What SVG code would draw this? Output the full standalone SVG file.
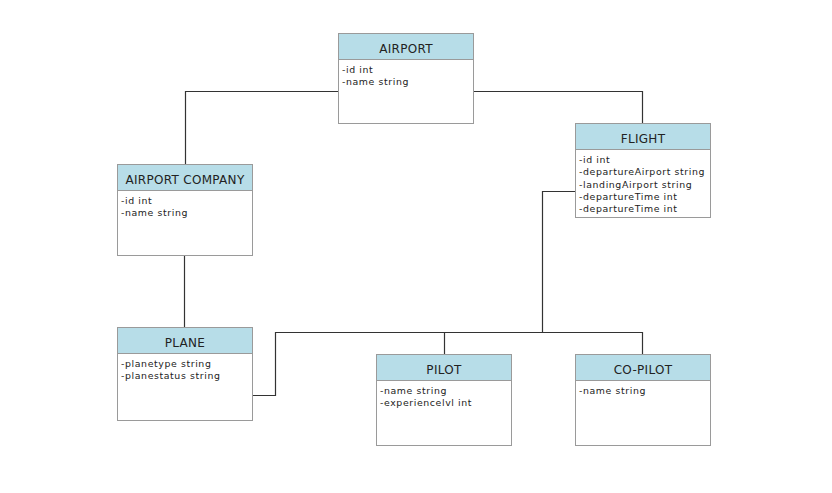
<svg xmlns="http://www.w3.org/2000/svg" width="832" height="493" viewBox="0 0 832 493">
<style>
.box{fill:#ffffff;stroke:#9a9a9a;stroke-width:1}
.hdr{fill:#b7dde8;stroke:#9a9a9a;stroke-width:1}
.title{font-family:"DejaVu Sans",Verdana,sans-serif;font-size:12px;letter-spacing:0.3px;fill:#222;text-anchor:middle}
.attr{font-family:"DejaVu Sans",Verdana,sans-serif;font-size:9.4px;letter-spacing:0.6px;fill:#222}
.conn{fill:none;stroke:#333;stroke-width:1.2}
</style>
<rect width="832" height="493" fill="#ffffff"/>
<g id="connectors">
<polyline class="conn" points="338.5,91.5 185.5,91.5 185.5,164.5"/>
<polyline class="conn" points="473.5,91.5 642.5,91.5 642.5,123.5"/>
<line class="conn" x1="184.5" y1="255.5" x2="184.5" y2="327.5"/>
<polyline class="conn" points="575.5,191.5 542.5,191.5 542.5,332.5"/>
<polyline class="conn" points="252.5,395.5 275.5,395.5 275.5,332.5 642.5,332.5 642.5,354.5"/>
<line class="conn" x1="444.5" y1="332.5" x2="444.5" y2="354.5"/>
</g>
<g id="airport">
<rect class="box" x="338.5" y="33.5" width="135" height="90"/>
<rect class="hdr" x="338.5" y="33.5" width="135" height="26"/>
<text class="title" x="406" y="52.5">AIRPORT</text>
<text class="attr" x="342" y="73">-id int</text>
<text class="attr" x="342" y="85">-name string</text>
</g>
<g id="flight">
<rect class="box" x="575.5" y="123.5" width="135" height="94"/>
<rect class="hdr" x="575.5" y="123.5" width="135" height="26"/>
<text class="title" x="643" y="142.5">FLIGHT</text>
<text class="attr" x="579" y="163">-id int</text>
<text class="attr" x="579" y="175.3">-departureAirport string</text>
<text class="attr" x="579" y="187.6">-landingAirport string</text>
<text class="attr" x="579" y="199.9">-departureTime int</text>
<text class="attr" x="579" y="212.2">-departureTime int</text>
</g>
<g id="airport-company">
<rect class="box" x="117.5" y="164.5" width="135" height="91"/>
<rect class="hdr" x="117.5" y="164.5" width="135" height="26"/>
<text class="title" x="185" y="183.5">AIRPORT COMPANY</text>
<text class="attr" x="121" y="204">-id int</text>
<text class="attr" x="121" y="216">-name string</text>
</g>
<g id="plane">
<rect class="box" x="117.5" y="327.5" width="135" height="93"/>
<rect class="hdr" x="117.5" y="327.5" width="135" height="26"/>
<text class="title" x="185" y="346.5">PLANE</text>
<text class="attr" x="121" y="367">-planetype string</text>
<text class="attr" x="121" y="379">-planestatus string</text>
</g>
<g id="pilot">
<rect class="box" x="376.5" y="354.5" width="135" height="91"/>
<rect class="hdr" x="376.5" y="354.5" width="135" height="26"/>
<text class="title" x="444" y="373.5">PILOT</text>
<text class="attr" x="380" y="394">-name string</text>
<text class="attr" x="380" y="406">-experiencelvl int</text>
</g>
<g id="co-pilot">
<rect class="box" x="575.5" y="354.5" width="135" height="91"/>
<rect class="hdr" x="575.5" y="354.5" width="135" height="26"/>
<text class="title" x="643" y="373.5">CO-PILOT</text>
<text class="attr" x="579" y="394">-name string</text>
</g>
</svg>
